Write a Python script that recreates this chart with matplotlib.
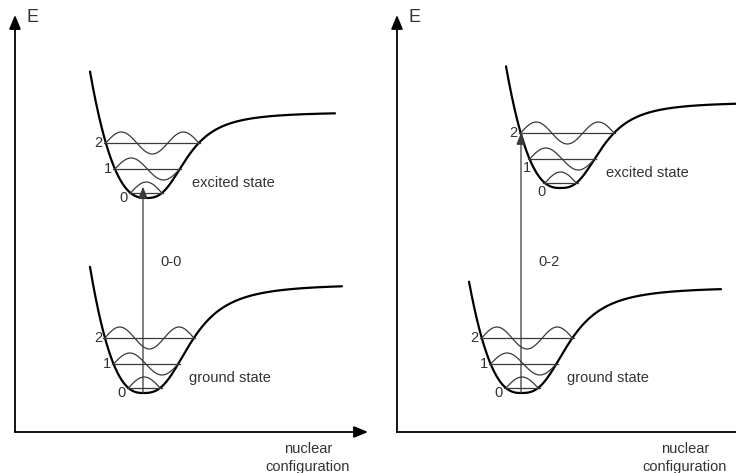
import numpy as np
import matplotlib
matplotlib.use("Agg")
import matplotlib.pyplot as plt

plt.rcParams['font.family'] = ['Liberation Sans', 'DejaVu Sans']

# vibrational quantum numbers and their heights above the well bottom
vib_numbers = [0, 1, 2]
level_heights = [5, 29, 55]
wave_amplitude = 11

state_names = ["ground state", "excited state"]
transition_labels = ["0-0", "0-2"]
transition_upper = [0, 2]          # upper vibrational level reached

# well parameters per panel: [ground, excited]
well_center = [[143, 146], [521, 560]]
well_bottom = [[393, 198], [393, 188]]
well_depth = [[109, 86], [106, 86]]
inner_width = [[50, 48], [51, 47]]
outer_width = [[50.5, 43], [50, 44]]
curve_start = [[90, 90], [469, 506]]
curve_end = [[342, 335], [721, 736]]

INNER_POW = 2.5
OUTER_POW = 2.8

axis_x = [15, 397]
axis_y = 432
axis_top = 15
axis_right = [368, 750]

TEXT = '#333333'
LINE = '#3a3a3a'


def potential(d, depth, wi, wo):
    inner = depth * (np.abs(d) / wi) ** INNER_POW
    u = (np.clip(d, 0, None) / wo) ** OUTER_POW
    outer = depth * u / (1 + u)
    return np.where(d < 0, inner, outer)


def turning_points(h, depth, wi, wo):
    dl = -wi * (h / depth) ** (1 / INNER_POW)
    dr = wo * (h / (depth - h)) ** (1 / OUTER_POW)
    return dl, dr


def wave(t, v):
    return np.sin((v + 1) * np.pi * t)


fig = plt.figure(figsize=(7.36, 4.73), dpi=100)
ax = fig.add_axes([0, 0, 1, 1])
ax.set_xlim(0, 736)
ax.set_ylim(473, 0)
ax.axis('off')

head = dict(arrowstyle='-|>,head_length=0.6,head_width=0.25', color='k', lw=1.3,
            mutation_scale=14, shrinkA=0, shrinkB=0)

for p in range(2):
    # energy / configuration axes
    ax.plot([axis_x[p], axis_x[p]], [axis_y, axis_top + 10], color='k', lw=1.3,
            solid_capstyle='butt')
    ax.annotate('', xy=(axis_x[p], axis_top), xytext=(axis_x[p], axis_top + 14),
                arrowprops=head)
    ax.plot([axis_x[p] - 0.6, axis_right[p] - 10], [axis_y, axis_y], color='k', lw=1.3,
            solid_capstyle='butt')
    ax.annotate('', xy=(axis_right[p], axis_y), xytext=(axis_right[p] - 14, axis_y),
                arrowprops=head)
    ax.text(axis_x[p] + 11, 18, 'E', fontsize=13, color=TEXT, ha='left', va='center')
    ax.text(308 if p == 0 else 685, 458, 'nuclear\nconfiguration',
            fontsize=10.5, color=TEXT, ha='center', va='center', linespacing=1.4)

    wave_at = {}
    for s in range(2):
        r0 = well_center[p][s]
        yb = well_bottom[p][s]
        D = well_depth[p][s]
        wi = inner_width[p][s]
        wo = outer_width[p][s]

        xs = np.linspace(curve_start[p][s], curve_end[p][s], 800)
        ys = yb - potential(xs - r0, D, wi, wo)
        ax.plot(xs, ys, color='k', lw=1.6, solid_capstyle='round')

        for v, h in zip(vib_numbers, level_heights):
            dl, dr = turning_points(h, D, wi, wo)
            xl, xr = r0 + dl, r0 + dr
            yl = yb - h
            ax.plot([xl - 1.5, xr + 1.5], [yl, yl], color=LINE, lw=0.9)
            t = np.linspace(0, 1, 200)
            ax.plot(xl + t * (xr - xl), yl - wave_amplitude * wave(t, v),
                    color=LINE, lw=0.9)
            wave_at[(s, v)] = (xl, xr, yl)
            # quantum number labels
            if p == 1 and s == 1 and v < 2:
                lx, ly = xl + 1, yl + 9
            elif v == 0:
                lx, ly = xl - 3, yl + 5
            else:
                lx, ly = xl - 3, yl
            ax.text(lx, ly, str(v), fontsize=10.5, color=TEXT, ha='right', va='center')

        ax.text(r0 + 46, yb - 15, state_names[s], fontsize=10.5, color=TEXT,
                ha='left', va='center')

    # vertical transition from the ground-state bottom
    vu = transition_upper[p]
    xl, xr, yl = wave_at[(1, vu)]
    x_arrow = well_center[p][0]
    t_arrow = np.clip((x_arrow - xl) / (xr - xl), 0, 1)
    y_tip = yl - 0.6 * wave_amplitude * wave(t_arrow, vu)
    ax.annotate('', xy=(x_arrow, y_tip), xytext=(x_arrow, well_bottom[p][0]),
                arrowprops=dict(arrowstyle='-|>,head_length=0.5,head_width=0.2',
                                color=LINE, lw=0.9, mutation_scale=14,
                                shrinkA=0, shrinkB=0))
    ax.text(x_arrow + 28, 262, transition_labels[p], fontsize=10.5, color=TEXT,
            ha='center', va='center')

fig.savefig('out.png', dpi=100)
